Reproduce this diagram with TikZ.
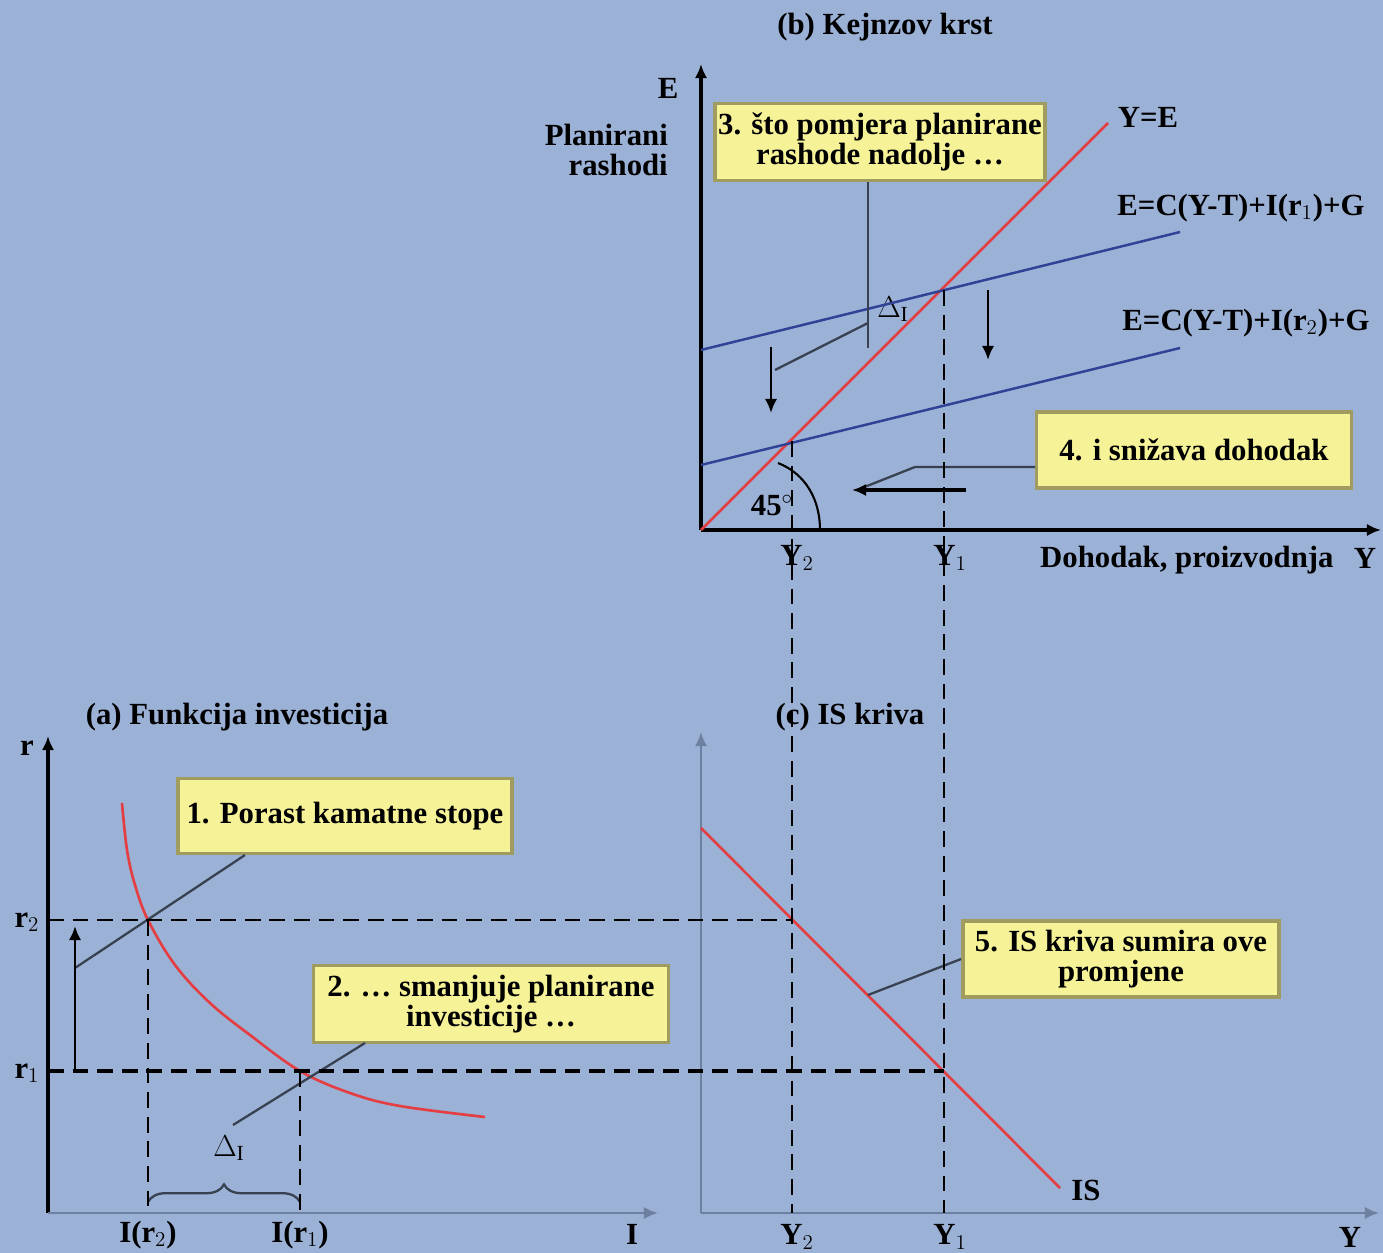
\documentclass[tikz,border=0pt]{standalone}
\usepackage{fontspec}
\setmainfont{Liberation Serif}
\usetikzlibrary{positioning, arrows.meta, decorations.pathreplacing}
\definecolor{bg}{RGB}{155,177,214}
\definecolor{boxfill}{RGB}{246,242,152}
\definecolor{boxline}{RGB}{160,155,95}
\definecolor{curvered}{RGB}{228,62,66}
\definecolor{lineblue}{RGB}{48,66,150}
\definecolor{calloutgray}{RGB}{55,65,80}
\definecolor{axisgray}{RGB}{110,128,160}

\begin{document}
\begin{tikzpicture}[x=0.02cm,y=-0.02cm,>={Latex[length=8pt,width=7pt]},font=\fontsize{17.5}{17.5}\selectfont\bfseries]

	\tikzstyle{box}=[draw=boxline,fill=boxfill,line width=2.2pt,align=center,inner sep=2pt]
	\tikzstyle{axis}=[line width=2.4pt,->]
	\tikzstyle{thinaxis}=[line width=1.6pt,draw=axisgray,->]
	\tikzstyle{guide}=[line width=1.5pt,dash pattern=on 9pt off 5pt]
	\tikzstyle{heavyguide}=[line width=2.6pt,dash pattern=on 9pt off 5pt]
	\tikzstyle{callout}=[line width=1.3pt,draw=calloutgray]
	\tikzstyle{movearrow}=[line width=1.4pt,->]

	\fill[bg] (0,0) rectangle (1383,1253);
	\useasboundingbox (0,0) rectangle (1383,1253);

	% (b) Kejnzov krst
	\coordinate (bO) at (701,530);
	\coordinate (bYtop) at (701,64);
	\coordinate (bXend) at (1381,530);
	\coordinate (e1) at (944,290);
	\coordinate (e2) at (792,441);

	\node (titleb) at (885,27) {(b) Kejnzov krst};
	\node (Elab) at (668,88) {E};
	\node[align=right,anchor=east] (planrash) at (674,150) {Planirani\\rashodi};
	\node (YElab) at (1148,117) {Y=E};
	\node (E1lab) at (1241,208) {E=C(Y-T)+I(r$_1$)+G};
	\node (E2lab) at (1246,323) {E=C(Y-T)+I(r$_2$)+G};
	\node (deg) at (772,505) {45$^\circ$};
	\node (Y2b) at (797,558) {Y$_2$};
	\node (Y1b) at (950,558) {Y$_1$};
	\node[anchor=west] (dohodak) at (1034,560) {Dohodak, proizvodnja};
	\node (Yb) at (1365,558) {Y};
	\node (dIb) at (893,309) {$\Delta_{\mathrm{I}}$};

	\draw[line width=1.8pt,->] (bO) -- (bYtop);
	\draw[axis] (bO) -- (bXend);
	\draw[line width=1.5pt,curvered] (bO) -- (1108,123);
	\draw[line width=1.4pt,lineblue] (701,350) -- (1180,232);
	\draw[line width=1.4pt,lineblue] (701,465) -- (1180,348);
	\draw[line width=1.2pt] (778,463) .. controls (806,474) and (820,500) .. (820,530);

	\node[box,minimum width=6.6cm,minimum height=1.54cm] (box3) at (880,142) {3. što pomjera planirane\\rashode nadolje \dots};
	\node[box,minimum width=6.3cm,minimum height=1.52cm] (box4) at (1194,450) {4. i snižava dohodak};

	\coordinate (c3a) at (868,348);
	\coordinate (c3b) at (868,323);
	\coordinate (c3c) at (775,370);
	\draw[callout] (box3.south -| c3a) -- (c3a);
	\draw[callout] (c3b) -- (c3c);

	\coordinate (c4a) at (1035,467);
	\coordinate (c4b) at (915,467);
	\coordinate (c4c) at (857,490);
	\draw[callout] (c4a) -- (c4b) -- (c4c);

	\coordinate (down1a) at (771,347);
	\coordinate (down1b) at (771,413);
	\coordinate (down2a) at (988,290);
	\coordinate (down2b) at (988,360);
	\draw[movearrow] (down1a) -- (down1b);
	\draw[movearrow] (down2a) -- (down2b);
	\coordinate (lefta) at (966,490);
	\coordinate (leftb) at (852,490);
	\draw[line width=2.6pt,->] (lefta) -- (leftb);

	% (a) Funkcija investicija
	\coordinate (aO) at (48,1213);
	\coordinate (aYtop) at (48,736);
	\coordinate (aXend) at (658,1213);
	\coordinate (ia2) at (148,920);
	\coordinate (ia1) at (300,1071);

	\node (titlea) at (237,717) {(a) Funkcija investicija};
	\node (rlab) at (27,748) {r};
	\node (r2lab) at (27,922) {r$_2$};
	\node (r1lab) at (27,1073) {r$_1$};
	\node (Ir2) at (148,1235) {I(r$_2$)};
	\node (Ir1) at (300,1235) {I(r$_1$)};
	\node (Ilab) at (632,1234) {I};
	\node (dIa) at (229,1148) {$\Delta_{\mathrm{I}}$};

	\draw[line width=2.8pt,->] (aO) -- (aYtop);
	\draw[thinaxis] (aO) -- (aXend);
	\draw[line width=1.5pt,curvered] plot[smooth,tension=0.6] coordinates {(122,803) (127,850) (135,885) (148,920) (175,965) (210,1003) (250,1035) (300,1071) (350,1093) (400,1106) (485,1117)};

	\node[box,minimum width=6.68cm,minimum height=1.5cm] (box1) at (345,816) {1. Porast kamatne stope};
	\node[box,minimum width=7.1cm,minimum height=1.54cm] (box2) at (491,1004) {2. \dots{} smanjuje planirane\\investicije \dots};

	\coordinate (c1a) at (245,855);
	\coordinate (c1b) at (75,968);
	\draw[callout] (c1a) -- (c1b);
	\coordinate (c2a) at (365,1043);
	\coordinate (c2b) at (233,1125);
	\draw[callout] (c2a) -- (c2b);

	\coordinate (upa) at (75,1071);
	\coordinate (upb) at (75,926);
	\draw[movearrow] (upa) -- (upb);

	\draw[callout,decorate,decoration={brace,amplitude=10pt}] (148,1202) -- (300,1202);

	% (c) IS kriva
	\coordinate (cO) at (701,1213);
	\coordinate (cYtop) at (701,732);
	\coordinate (cXend) at (1379,1213);
	\coordinate (is2) at (792,920);
	\coordinate (is1) at (944,1071);

	\node (titlec) at (850,717) {(c) IS kriva};
	\node (ISlab) at (1086,1190) {IS};
	\node (Y2c) at (797,1237) {Y$_2$};
	\node (Y1c) at (950,1237) {Y$_1$};
	\node (Yc) at (1350,1237) {Y};

	\draw[thinaxis] (cO) -- (cYtop);
	\draw[thinaxis] (cO) -- (cXend);
	\draw[line width=1.5pt,curvered] (701,828) -- (1060,1188);

	\node[box,minimum width=6.32cm,minimum height=1.52cm] (box5) at (1121,959) {5. IS kriva sumira ove\\promjene};
	\coordinate (c5b) at (868,995);
	\draw[callout] (box5.west) -- (c5b);

	% guide lines
	\draw[guide] (e2) -- (792,1213);
	\draw[guide] (e1) -- (944,1213);
	\draw[guide] (48,920) -- (is2);
	\draw[heavyguide] (48,1071) -- (is1);
	\draw[guide] (ia2) -- (148,1213);
	\draw[guide] (ia1) -- (300,1213);
\end{tikzpicture}
\end{document}
